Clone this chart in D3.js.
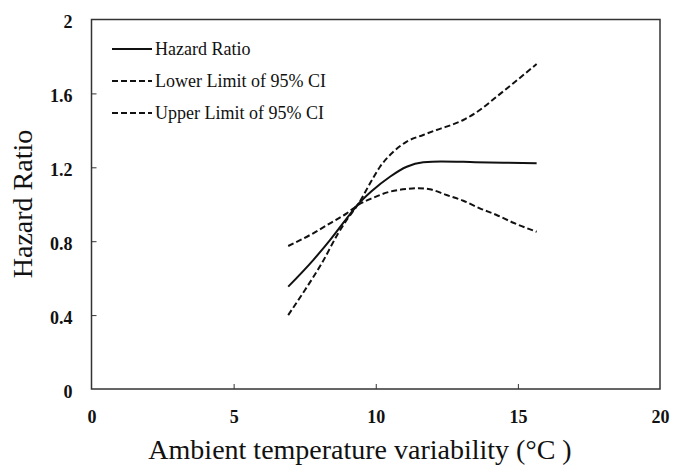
<!DOCTYPE html>
<html><head><meta charset="utf-8">
<script src="https://cdn.jsdelivr.net/npm/d3@7"></script>
<style>body{margin:0;background:#fff}svg{display:block}</style>
</head><body>
<svg id="c" width="673" height="467"></svg>
<script>
const xTicks = [0, 5, 10, 15, 20];
const yTicks = [0, 0.4, 0.8, 1.2, 1.6, 2];
const yTickLabels = ["0", "0.4", "0.8", "1.2", "1.6", "2"];
const seriesNames = ["Hazard Ratio", "Lower Limit of 95% CI", "Upper Limit of 95% CI"];

const hrX = [6.92, 7.80, 8.39, 8.98, 9.38, 9.85, 10.5, 11.09, 11.67, 12.3, 13.5, 14.5, 15.66];
const hrY = [0.554, 0.698, 0.806, 0.924, 1.0, 1.07, 1.149, 1.203, 1.227, 1.232, 1.228, 1.225, 1.222];

const loX = [6.92, 7.80, 8.39, 8.98, 9.38, 9.91, 10.5, 11.09, 11.5, 11.9, 12.49, 13.08, 13.66, 14.25, 14.84, 15.66];
const loY = [0.774, 0.843, 0.897, 0.951, 0.996, 1.035, 1.068, 1.083, 1.087, 1.081, 1.05, 1.019, 0.978, 0.942, 0.90, 0.851];

const upX = [6.92, 7.51, 8.10, 8.68, 9.0, 9.38, 9.8, 10.15, 10.62, 11.09, 11.67, 12.14, 12.49, 13.08, 13.66, 14.25, 14.84, 15.66];
const upY = [0.40, 0.536, 0.680, 0.843, 0.92, 1.0, 1.113, 1.203, 1.284, 1.339, 1.375, 1.402, 1.42, 1.456, 1.51, 1.582, 1.655, 1.759];

const svg = d3.select("#c");
const L = 91.5, R = 660, T = 19.5, B = 389;
const x = d3.scaleLinear().domain([0, 20]).range([L, R]);
const y = d3.scaleLinear().domain([0, 2]).range([B, T]);
const serif = "Liberation Serif, Times New Roman, serif";

// frame
svg.append("rect").attr("x", L).attr("y", T).attr("width", R - L).attr("height", B - T)
  .attr("fill", "none").attr("stroke", "#333").attr("stroke-width", 1.5);

// axes (inward ticks)
const xAxis = d3.axisBottom(x).tickValues(xTicks).tickSizeInner(-5).tickSizeOuter(0).tickPadding(21);
const gx = svg.append("g").attr("transform", `translate(0,${B})`).call(xAxis)
  .attr("font-family", serif).attr("font-size", 18).attr("font-weight", "bold");
gx.select(".domain").remove();
gx.selectAll(".tick line").attr("stroke", "#333");
gx.selectAll(".tick text").attr("fill", "#111");
gx.selectAll(".tick").filter(d => d === 0 || d === 20).select("line").remove();

const yAxis = d3.axisLeft(y).tickValues(yTicks).tickFormat((d, i) => yTickLabels[i]).tickSizeInner(-5).tickSizeOuter(0).tickPadding(19);
const gy = svg.append("g").attr("transform", `translate(${L},0)`).call(yAxis)
  .attr("font-family", serif).attr("font-size", 18).attr("font-weight", "bold");
gy.select(".domain").remove();
gy.selectAll(".tick line").attr("stroke", "#333");
gy.selectAll(".tick text").attr("fill", "#111").attr("dy", "0.45em");
gy.selectAll(".tick").filter(d => d === 0 || d === 2).select("line").remove();

// titles
svg.append("text").attr("x", 360).attr("y", 459).attr("text-anchor", "middle")
  .attr("font-family", serif).attr("font-size", 28).attr("fill", "#111")
  .text("Ambient temperature variability (°C )");
svg.append("text").attr("transform", "translate(32,204) rotate(-90)").attr("text-anchor", "middle")
  .attr("font-family", serif).attr("font-size", 28).attr("fill", "#111")
  .text("Hazard Ratio");

// lines
const line = d3.line().x(d => x(d[0])).y(d => y(d[1])).curve(d3.curveMonotoneX);
const series = [
  {xs: hrX, ys: hrY, dash: null},
  {xs: loX, ys: loY, dash: "6,3"},
  {xs: upX, ys: upY, dash: "6,3"}
];
series.forEach(s => {
  svg.append("path").datum(s.xs.map((v, i) => [v, s.ys[i]]))
    .attr("d", line).attr("fill", "none").attr("stroke", "#111").attr("stroke-width", 2)
    .attr("stroke-dasharray", s.dash);
});

// legend
const legY = [49, 81, 113];
seriesNames.forEach((n, i) => {
  svg.append("line").attr("x1", 112).attr("x2", 152).attr("y1", legY[i]).attr("y2", legY[i])
    .attr("stroke", "#111").attr("stroke-width", 2).attr("stroke-dasharray", series[i].dash);
  svg.append("text").attr("x", 155).attr("y", legY[i] + 6).attr("font-family", serif)
    .attr("font-size", 18).attr("fill", "#111").text(n);
});
</script>
</body></html>
